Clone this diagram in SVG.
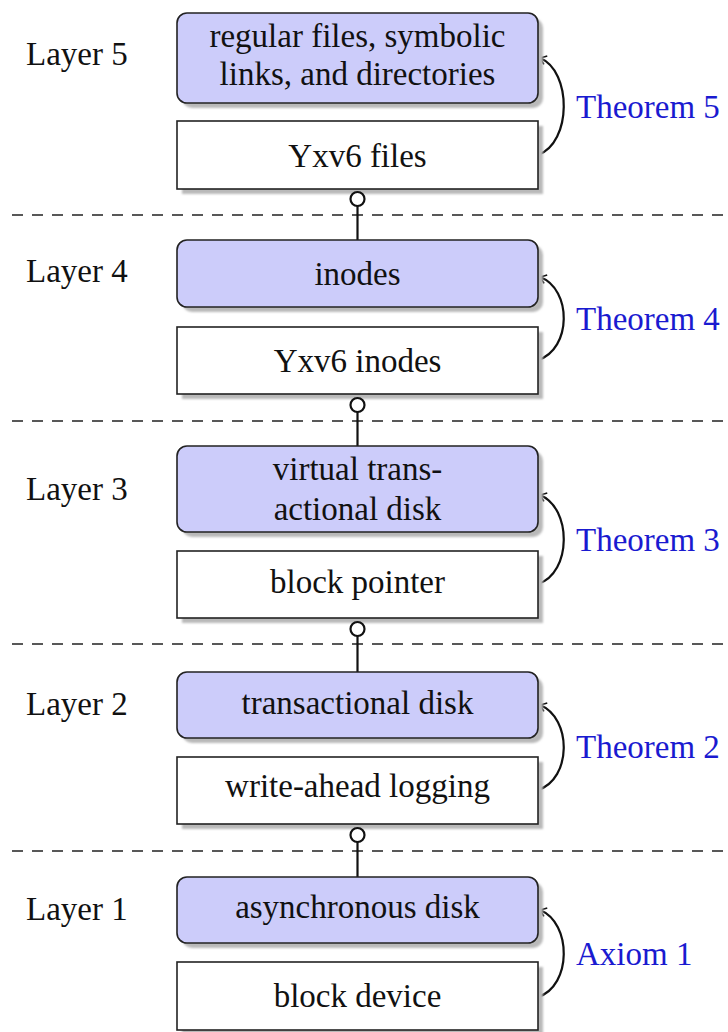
<svg xmlns="http://www.w3.org/2000/svg" width="728" height="1032" viewBox="0 0 728 1032">
<style>
text{font-family:"Liberation Serif","Times New Roman",serif;font-size:33px;fill:#111}
.lbl{fill:#111}
.thm{fill:#1a1ad0}
.mid{text-anchor:middle}
.blue{fill:#ccccfa;stroke:#222;stroke-width:1.6}
.white{fill:#fff;stroke:#222;stroke-width:1.6}
.shadow{fill:#b9b9b9;filter:url(#blur)}
.dash{stroke:#222;stroke-width:1.6;stroke-dasharray:11 9;fill:none}
.conn{stroke:#111;stroke-width:2.2;fill:none}
.knob{fill:#fff;stroke:#111;stroke-width:2.2}
.arc{stroke:#111;stroke-width:2.2;fill:none;marker-end:url(#ah)}
</style>
<defs>
<filter id="blur" x="-5%" y="-20%" width="110%" height="140%"><feGaussianBlur stdDeviation="1"/></filter>
<marker id="ah" markerWidth="12" markerHeight="12" viewBox="-8 -6 10 12" refX="0" refY="0" orient="auto" markerUnits="userSpaceOnUse">
<path d="M-6,-4.5 Q-1.5,-1 0,0 Q-1.5,1 -6,4.5" fill="none" stroke="#111" stroke-width="1.6"/>
</marker>
</defs>

<g id="separators">
<line class="dash" x1="12" y1="215" x2="728" y2="215"/>
<line class="dash" x1="12" y1="421" x2="728" y2="421"/>
<line class="dash" x1="12" y1="644" x2="728" y2="644"/>
<line class="dash" x1="12" y1="851" x2="728" y2="851"/>
</g>

<g id="layer-labels">
<text class="lbl" x="26" y="65">Layer 5</text>
<text class="lbl" x="26" y="282">Layer 4</text>
<text class="lbl" x="26" y="500">Layer 3</text>
<text class="lbl" x="26" y="715">Layer 2</text>
<text class="lbl" x="26" y="920">Layer 1</text>
</g>

<g id="connectors">
<line class="conn" x1="357.5" y1="206" x2="357.5" y2="240"/>
<line class="conn" x1="357.5" y1="412" x2="357.5" y2="446"/>
<line class="conn" x1="357.5" y1="636" x2="357.5" y2="672"/>
<line class="conn" x1="357.5" y1="842" x2="357.5" y2="877"/>
<path class="arc" d="M538,155 C572,143 572,71 540,58"/>
<path class="arc" d="M538,360 C572,349 572,289 540,277"/>
<path class="arc" d="M538,584 C572,573 572,508 540,495"/>
<path class="arc" d="M538,790 C572,779 572,718 540,705"/>
<path class="arc" d="M538,997 C572,986 572,923 540,910"/>
</g>

<g id="node-l5-top">
<rect class="shadow" x="182" y="18" width="361" height="90" rx="10"/>
<rect class="blue" x="177" y="13" width="361" height="90" rx="10"/>
<text class="mid" x="357.5" y="47">regular files, symbolic</text>
<text class="mid" x="357.5" y="85">links, and directories</text>
</g>
<g id="node-l5-bottom">
<rect class="shadow" x="182" y="126" width="361" height="68"/>
<rect class="white" x="177" y="121" width="361" height="68"/>
<text class="mid" x="357.5" y="167">Yxv6 files</text>
</g>

<g id="node-l4-top">
<rect class="shadow" x="182" y="245" width="361" height="67" rx="10"/>
<rect class="blue" x="177" y="240" width="361" height="67" rx="10"/>
<text class="mid" x="357.5" y="285">inodes</text>
</g>
<g id="node-l4-bottom">
<rect class="shadow" x="182" y="332" width="361" height="67"/>
<rect class="white" x="177" y="327" width="361" height="67"/>
<text class="mid" x="357.5" y="372">Yxv6 inodes</text>
</g>

<g id="node-l3-top">
<rect class="shadow" x="182" y="451" width="361" height="86" rx="10"/>
<rect class="blue" x="177" y="446" width="361" height="86" rx="10"/>
<text class="mid" x="357.5" y="480">virtual trans-</text>
<text class="mid" x="357.5" y="520">actional disk</text>
</g>
<g id="node-l3-bottom">
<rect class="shadow" x="182" y="556" width="361" height="67"/>
<rect class="white" x="177" y="551" width="361" height="67"/>
<text class="mid" x="357.5" y="593">block pointer</text>
</g>

<g id="node-l2-top">
<rect class="shadow" x="182" y="677" width="361" height="66" rx="10"/>
<rect class="blue" x="177" y="672" width="361" height="66" rx="10"/>
<text class="mid" x="357.5" y="714">transactional disk</text>
</g>
<g id="node-l2-bottom">
<rect class="shadow" x="182" y="762" width="361" height="67"/>
<rect class="white" x="177" y="757" width="361" height="67"/>
<text class="mid" x="357.5" y="797">write-ahead logging</text>
</g>

<g id="node-l1-top">
<rect class="shadow" x="182" y="882" width="361" height="66" rx="10"/>
<rect class="blue" x="177" y="877" width="361" height="66" rx="10"/>
<text class="mid" x="357.5" y="918">asynchronous disk</text>
</g>
<g id="node-l1-bottom">
<rect class="shadow" x="182" y="967" width="361" height="68"/>
<rect class="white" x="177" y="962" width="361" height="68"/>
<text class="mid" x="357.5" y="1007">block device</text>
</g>

<g id="interface-knobs">
<circle class="knob" cx="357.5" cy="199" r="7"/>
<circle class="knob" cx="357.5" cy="405" r="7"/>
<circle class="knob" cx="357.5" cy="629" r="7"/>
<circle class="knob" cx="357.5" cy="835" r="7"/>
</g>

<g id="proof-labels">
<text class="thm" x="576" y="118">Theorem 5</text>
<text class="thm" x="576" y="330">Theorem 4</text>
<text class="thm" x="576" y="551">Theorem 3</text>
<text class="thm" x="576" y="758">Theorem 2</text>
<text class="thm" x="576" y="965">Axiom 1</text>
</g>
</svg>
